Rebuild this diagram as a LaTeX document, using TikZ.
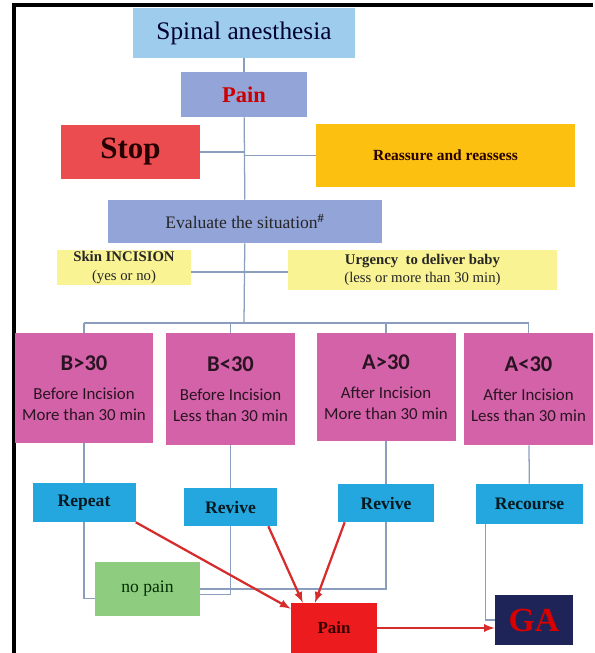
\documentclass[tikz,border=0pt]{standalone}
\usepackage{fontspec}
\setmainfont{Liberation Serif}
\newfontfamily\calibri{Carlito}
\usetikzlibrary{calc}
\definecolor{skyfill}{RGB}{158,204,236}
\definecolor{lavfill}{RGB}{146,164,216}
\definecolor{stopfill}{RGB}{234,76,80}
\definecolor{goldfill}{RGB}{252,192,16}
\definecolor{paleyel}{RGB}{249,243,148}
\definecolor{pinkfill}{RGB}{211,98,168}
\definecolor{cyanfill}{RGB}{36,166,222}
\definecolor{greenfill}{RGB}{142,204,128}
\definecolor{redfill}{RGB}{236,28,30}
\definecolor{navyfill}{RGB}{30,36,88}
\definecolor{linkgray}{RGB}{140,158,190}
\definecolor{arrowred}{RGB}{214,44,44}
\newcommand{\px}{0.025cm}
\begin{document}
\begin{tikzpicture}[x=0.025cm, y=-0.025cm, >=latex]
	\tikzset{wh/.style 2 args={minimum width=#1*\px,minimum height=#2*\px}}
	\tikzstyle{box} = [rectangle,inner sep=0pt,align=center]
	\tikzstyle{pinkbox} = [box,fill=pinkfill,text=black!80!pinkfill,font=\calibri\fontsize{12}{15}\selectfont]
	\tikzstyle{cyanbox} = [box,fill=cyanfill,text=black!85!cyanfill,font=\bfseries\fontsize{12.5}{15}\selectfont]
	\tikzstyle{yelbox} = [box,fill=paleyel,text=black!85,font=\fontsize{10.5}{13}\selectfont]
	\tikzstyle{link} = [color=linkgray,line width=0.9pt]
	\useasboundingbox (0,0) rectangle (594,653);
	\draw[line width=2.2pt] (593,5) -- (14,5) -- (14,653);
	
	\node[box,fill=skyfill,wh={222}{50},text=black!80!blue,font=\fontsize{18}{20}\selectfont](spinal)at (244,33){Spinal anesthesia};
	\node[box,fill=lavfill,wh={126}{45},text=red!80!black,font=\bfseries\fontsize{16}{18}\selectfont](pain-1)at (244,94.5){Pain};
	\node[box,fill=stopfill,wh={139}{54},text=black!85!red,font=\bfseries\fontsize{22}{24}\selectfont](stop)at (130.5,152){Stop};
	\node[box,fill=goldfill,wh={259}{63},text=black!85!red,font=\bfseries\fontsize{11}{13}\selectfont](reassure)at (445.5,155.5){Reassure and reassess};
	\node[box,fill=lavfill,wh={274}{43},text=black!85,font=\fontsize{12.5}{15}\selectfont](evaluate)at (245,221.5){Evaluate the situation\textsuperscript{\bfseries\#}};
	\node[yelbox,wh={134}{35}](skin)at (124,267.5){\textbf{Skin INCISION}\\(yes or no)};
	\node[yelbox,wh={269}{40}](urgency)at (422.5,270){\textbf{Urgency~ to deliver baby}\\(less or more than 30 min)};
	
	\node[pinkbox,wh={138}{110}](b-1)at (84,388){{\bfseries\fontsize{16}{20}\selectfont B>30}\\[6pt]Before Incision\\More than 30 min};
	\node[pinkbox,wh={129}{112}](b-2)at (230.5,389){{\bfseries\fontsize{16}{20}\selectfont B<30}\\[6pt]Before Incision\\Less than 30 min};
	\node[pinkbox,wh={139}{108}](a-1)at (386,387){{\bfseries\fontsize{16}{20}\selectfont A>30}\\[6pt]After Incision\\More than 30 min};
	\node[pinkbox,wh={129}{112}](a-2)at (528.5,389){{\bfseries\fontsize{16}{20}\selectfont A<30}\\[6pt]After Incision\\Less than 30 min};
	
	\node[cyanbox,wh={103}{39}](repeat)at (84,502.5){Repeat};
	\node[cyanbox,wh={93}{38}](revive-1)at (230.5,507){Revive};
	\node[cyanbox,wh={96}{38}](revive-2)at (386,503){Revive};
	\node[cyanbox,wh={107}{40}](recourse)at (529.5,504){Recourse};
	
	\node[box,fill=greenfill,wh={105}{54},text=black!70!green!60!black,font=\fontsize{12.5}{15}\selectfont](nopain)at (147.5,589){no pain};
	\node[box,fill=redfill,wh={86}{50},text=black!80!red,font=\bfseries\fontsize{12}{14}\selectfont](pain-2)at (334,628){Pain};
	\node[box,fill=navyfill,wh={78}{50},text=red!85!black,font=\bfseries\fontsize{24}{26}\selectfont](ga)at (534,620){GA};
	
	\coordinate (mid) at (244,272);
	\coordinate (bus) at (244,323);
	
	\path[link] (spinal) edge (pain-1)
	(pain-1) edge (evaluate)
	(stop.east) edge (stop.east -| pain-1.south)
	(reassure.west) edge (reassure.west -| pain-1.south)
	(mid -| skin.east) edge (mid -| urgency.west)
	(evaluate) edge (bus)
	(bus -| b-1.north) edge (bus -| a-2.north);
	\path[link] (bus -| b-1.north) edge (b-1)
	(bus -| b-2.north) edge (b-2)
	(bus -| a-1.north) edge (a-1)
	(bus -| a-2.north) edge (a-2)
	(b-1) edge (repeat)
	(b-2) edge (revive-1)
	(a-1) edge (revive-2)
	(a-2) edge (recourse);
	\draw[link] (repeat.south) |- (nopain.190);
	\draw[link] (revive-1.south) |- (nopain.-6);
	\draw[link] (revive-2.south) |- (nopain.east);
	\draw[link] ($(recourse.south west)+(10,0)$) |- (ga.west);
	
	\path[color=arrowred,line width=1.6pt,->] (repeat.south east) edge (pain-2.156)
	(revive-1.-27) edge (pain-2.141)
	(revive-2.205) edge (pain-2.127)
	(pain-2.east) edge (pain-2.east -| ga.west);
	
	\end{tikzpicture}
\end{document}
